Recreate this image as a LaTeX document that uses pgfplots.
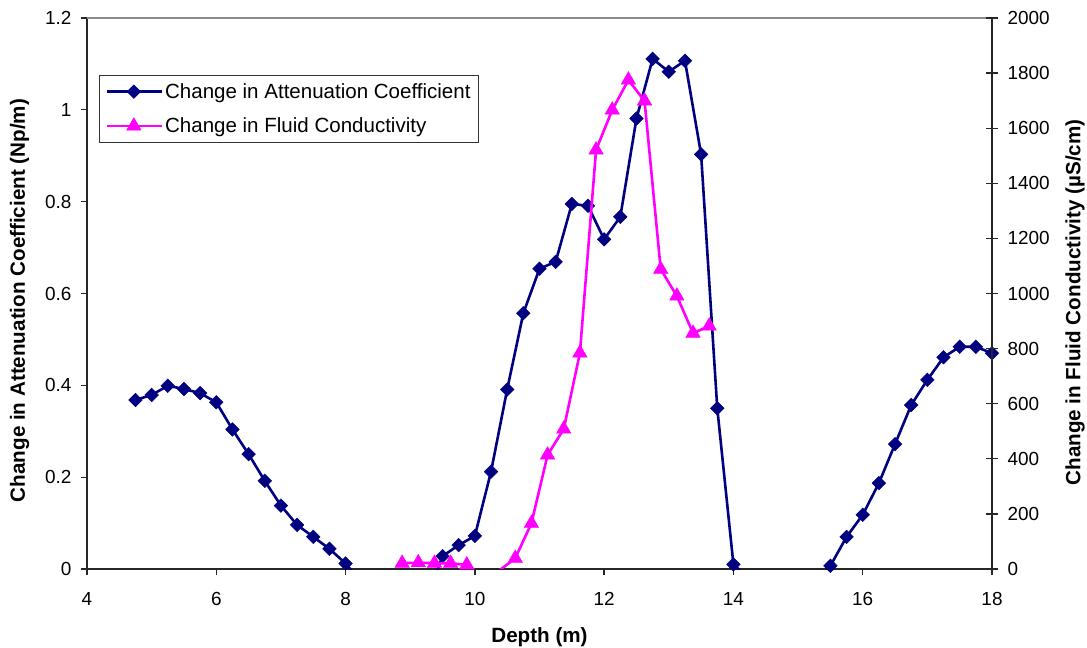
\documentclass[border=0pt]{standalone}
\usepackage{fontspec}
\setmainfont{Liberation Sans}
\usepackage{pgfplots}
\pgfplotsset{compat=1.18}
\usepackage{pgfplotstable}
\definecolor{navyc}{RGB}{0,0,128}
\definecolor{magc}{RGB}{255,0,255}

\pgfplotstableread{
x y
4.75 0.368
5.0 0.379
5.25 0.399
5.5 0.392
5.75 0.383
6.0 0.363
6.25 0.304
6.5 0.250
6.75 0.192
7.0 0.138
7.25 0.096
7.5 0.070
7.75 0.044
8.0 0.012
8.25 -0.03
8.5 -0.07
8.75 -0.10
9.0 -0.11
9.25 -0.065
9.5 0.028
9.75 0.052
10.0 0.072
10.25 0.212
10.5 0.391
10.75 0.557
11.0 0.654
11.25 0.669
11.5 0.795
11.75 0.791
12.0 0.718
12.25 0.767
12.5 0.981
12.75 1.111
13.0 1.083
13.25 1.107
13.5 0.903
13.75 0.350
14.0 0.010
14.25 -0.022
14.5 -0.012
14.75 -0.04
15.0 -0.07
15.25 -0.045
15.5 0.007
15.75 0.070
16.0 0.118
16.25 0.187
16.5 0.272
16.75 0.357
17.0 0.412
17.25 0.461
17.5 0.484
17.75 0.484
18.0 0.470
}\atten

\pgfplotstableread{
x y
8.875 21
9.125 23
9.375 21
9.625 21
9.875 15
10.125 -24
10.375 -6
10.625 39
10.875 166
11.125 414
11.375 508
11.625 784
11.875 1521
12.125 1666
12.375 1775
12.625 1699
12.875 1088
13.125 991
13.375 856
13.625 882
}\cond

\pgfplotsset{
  common/.style={
    scale only axis, width=905bp, height=551bp,
    at={(0,0)}, anchor=south west,
    xmin=4, xmax=18,
    /pgf/number format/assume math mode=true,
    /pgf/number format/1000 sep={},
    scaled ticks=false,
    tick label style={font=\fontsize{19}{22}\selectfont, text=black},
    label style={font=\bfseries\fontsize{20.7}{24}\selectfont},
    axis line style={line width=1.6bp, black!85},
    major tick style={line width=1.3bp, black!85},
  },
  bluel/.style={navyc, line width=2.6bp},
  magl/.style={magc, line width=2.6bp},
  bluem/.style={navyc, mark=square*, mark size=4.8bp, mark options={rotate=45, solid, fill=navyc, draw=navyc, line width=0.5bp}},
  magm/.style={magc, mark=triangle*, mark size=8.3bp, mark options={solid, fill=magc, draw=magc, line width=0.5bp}},
}

\begin{document}
\begin{tikzpicture}
\useasboundingbox (-87bp,-79bp) rectangle (1000bp,569bp);
\begin{axis}[common,
  ymin=0, ymax=1.2,
  axis x line*=bottom, axis y line*=left,
  xtick={4,6,8,10,12,14,16,18},
  ytick={0,0.2,0.4,0.6,0.8,1,1.2},
  tick align=outside, major tick length=6bp,
  xticklabel style={yshift=-14bp},
  yticklabel style={xshift=-6bp},
  xlabel={Depth (m)},
  xlabel style={yshift=-15bp},
  ylabel={Change in Attenuation Coefficient (Np/m)},
  ylabel style={yshift=9bp, xshift=-7bp},
]
\draw[black!45, line width=1.5bp] (rel axis cs:0,1) -- (rel axis cs:1,1);
\addplot[bluel, mark=none, forget plot] table[x=x, y=y] {\atten};
\addplot[bluem, only marks, restrict y to domain=0:2, forget plot] table[x=x, y=y] {\atten};
\end{axis}
\begin{axis}[common,
  ymin=0, ymax=2000,
  axis y line*=right, axis x line=none,
  ytick={0,200,...,2000},
  tick align=center, major tick length=12bp,
  yticklabel style={xshift=6bp},
  ylabel={Change in Fluid Conductivity (\textmu S/cm)},
  ylabel style={yshift=-9bp, xshift=-9bp},
  legend cell align=left,
  legend style={at={(0.0133,0.8966)}, anchor=north west, draw=black!80, line width=1bp,
    font=\fontsize{20.6}{24}\selectfont, inner xsep=6bp, inner ysep=6bp, row sep=14bp},
  legend image code/.code={\draw[mark repeat=2, mark phase=2, #1] plot coordinates {(0bp,0bp) (27bp,0bp) (55bp,0bp)};},
]
\addplot[magl, mark=none, forget plot] table[x=x, y=y] {\cond};
\addplot[magm, only marks, restrict y to domain=0:3000, forget plot] table[x=x, y=y] {\cond};
\addlegendimage{bluel, bluem}
\addlegendentry{Change in Attenuation Coefficient}
\addlegendimage{magl, magm}
\addlegendentry{Change in Fluid Conductivity}
\end{axis}
\end{tikzpicture}
\end{document}
